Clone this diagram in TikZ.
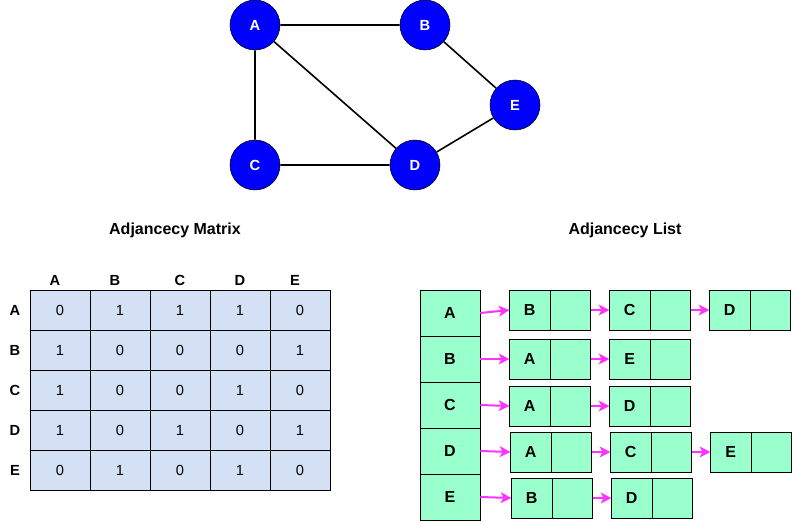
\documentclass[tikz,border=0pt]{standalone}
\usepackage{fontspec}
\setmainfont{Liberation Sans}
\usetikzlibrary{shapes, arrows.meta}
\definecolor{vertexblue}{RGB}{0,0,255}
\definecolor{cellblue}{HTML}{D4E1F5}
\definecolor{listgreen}{HTML}{99FFCC}
\definecolor{linkpink}{HTML}{FF33FF}

\begin{document}
\begin{tikzpicture}[x=0.75pt, y=-0.75pt]
						\tikzstyle{vertex}=[
						circle,
						draw,
						fill=vertexblue,
						text=white,
						minimum size=37.5pt,
						inner sep=0pt,
						font=\bfseries\fontsize{11}{12}\selectfont
						]
						\tikzstyle{cell}=[
						draw,
						fill=cellblue,
						minimum width=45pt,
						minimum height=30pt,
						inner sep=0pt,
						font=\fontsize{11}{12}\selectfont
						]
						\tikzstyle{headnode}=[
						draw,
						fill=listgreen,
						minimum width=45pt,
						minimum height=34.5pt,
						inner sep=0pt,
						font=\bfseries\fontsize{12}{14}\selectfont
						]
						\tikzstyle{listnode}=[
						draw,
						fill=listgreen,
						rectangle split,
						rectangle split horizontal,
						rectangle split parts=2,
						text width=30pt,
						align=center,
						minimum height=30pt,
						inner sep=0pt,
						font=\bfseries\fontsize{12}{14}\selectfont
						]
						\tikzstyle{label}=[font=\bfseries\fontsize{11}{12}\selectfont]
						\tikzstyle{title}=[font=\bfseries\fontsize{12}{14}\selectfont]
						\tikzstyle{link}=[->, >={Stealth[length=8pt, width=8pt, inset=2pt]}, draw=linkpink, fill=linkpink, line width=1.5pt]
						\useasboundingbox (0,0) rectangle (792,521);
						%
						% graph
						\node[vertex] (A) at (255,25) {A};
						\node[vertex] (B) at (425,25) {B};
						\node[vertex] (E) at (515,105) {E};
						\node[vertex] (C) at (255,165) {C};
						\node[vertex] (D) at (415,165) {D};
						\draw[line width=1.2pt] (A) -- (B) (B) -- (E) (E) -- (D) (D) -- (C) (C) -- (A) (A) -- (D);
						%
						\node[title] (mtitle) at (175,230) {Adjancecy Matrix};
						\node[title] (ltitle) at (625,230) {Adjancecy List};
						%
						% matrix
						\foreach \col/\x in {A/55, B/115, C/180, D/240, E/295}
						\node[label] (top\col) at (\x,280) {\col};
						\foreach \row/\vals [count=\r] in {A/{0,1,1,1,0}, B/{1,0,0,0,1}, C/{1,0,0,1,0}, D/{1,0,1,0,1}, E/{0,1,0,1,0}} {
							\node[label] (side\row) at (15,270+\r*40) {\row};
							\foreach \v [count=\c] in \vals
							\node[cell] (m\r\c) at (\c*60,270+\r*40) {\v};
						}
						%
						% list
						\node[headnode] (hA) at (450,313) {A};
						\node[headnode] (hB) at (450,359) {B};
						\node[headnode] (hC) at (450,405) {C};
						\node[headnode] (hD) at (450,451) {D};
						\node[headnode] (hE) at (450,497) {E};
						%
						\node[listnode] (a1) at (550,310) {B \nodepart{two}};
						\node[listnode] (a2) at (650,310) {C \nodepart{two}};
						\node[listnode] (a3) at (750,310) {D \nodepart{two}};
						\node[listnode] (b1) at (550,359) {A \nodepart{two}};
						\node[listnode] (b2) at (650,359) {E \nodepart{two}};
						\node[listnode] (c1) at (550,406) {A \nodepart{two}};
						\node[listnode] (c2) at (650,406) {D \nodepart{two}};
						\node[listnode] (d1) at (551,452) {A \nodepart{two}};
						\node[listnode] (d2) at (651,452) {C \nodepart{two}};
						\node[listnode] (d3) at (751,452) {E \nodepart{two}};
						\node[listnode] (e1) at (552,498) {B \nodepart{two}};
						\node[listnode] (e2) at (652,498) {D \nodepart{two}};
						%
						\draw[link] (hA.east) -- (a1.west);
						\draw[link] (a1.east) -- (a2.west);
						\draw[link] (a2.east) -- (a3.west);
						\draw[link] (hB.east) -- (b1.west);
						\draw[link] (b1.east) -- (b2.west);
						\draw[link] (hC.east) -- (c1.west);
						\draw[link] (c1.east) -- (c2.west);
						\draw[link] (hD.east) -- (d1.west);
						\draw[link] (d1.east) -- (d2.west);
						\draw[link] (d2.east) -- (d3.west);
						\draw[link] (hE.east) -- (e1.west);
						\draw[link] (e1.east) -- (e2.west);
					\end{tikzpicture}
\end{document}
